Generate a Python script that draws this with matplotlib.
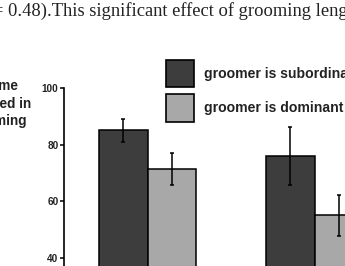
import matplotlib
matplotlib.use("Agg")
import matplotlib.pyplot as plt
from matplotlib.patches import Rectangle
import numpy as np

# Data
groups = [0, 1]
series_names = ["groomer is subordinate", "groomer is dominant"]
subordinate = [85.0, 76.0]
subordinate_err = [4.0, 10.3]
dominant = [71.5, 55.0]
dominant_err = [5.7, 7.2]
yticks = [40, 60, 80, 100]

W, H = 345, 266
fig = plt.figure(figsize=(W / 100, H / 100), dpi=100)

def fx(px):
    return px / W

def fy(py):
    return 1 - py / H

dark = "#3d3d3d"
light = "#a8a8a8"

# axes: left spine at x=64 px, y=100 at 88 px, 167 px per group unit
ax_left, ax_right = 64, 64 + 334
ax_top, ax_bot = 88, 88 + 283
ax = fig.add_axes([fx(ax_left), fy(ax_bot), (ax_right - ax_left) / W, (ax_bot - ax_top) / H])
ax.set_xlim(-0.5, 1.5)
ax.set_ylim(0, 100)

bw = 0.288
x = np.array(groups, dtype=float)
ekw = dict(ecolor="black", elinewidth=1.1, capsize=1.3, capthick=1.1)
ax.bar(x - bw / 2, subordinate, bw, color=dark, edgecolor="black", linewidth=1.1,
       yerr=subordinate_err, error_kw=ekw, zorder=2)
ax.bar(x + bw / 2, dominant, bw, color=light, edgecolor="black", linewidth=1.1,
       yerr=dominant_err, error_kw=ekw, zorder=2)

for s in ["top", "right", "bottom"]:
    ax.spines[s].set_visible(False)
ax.spines["left"].set_linewidth(1.2)
ax.set_xticks([])
ax.set_yticks(yticks)
ax.set_yticklabels([str(t) for t in yticks], fontfamily="Liberation Sans",
                   fontweight="bold", fontsize=7.2, color="#222222")
ax.tick_params(axis="y", direction="out", length=3, width=1.1, pad=1)

# legend (manual)
for i, (name, col) in enumerate(zip(series_names, [dark, light])):
    top = 59.5 + i * 34.5
    fig.add_artist(Rectangle((fx(166), fy(top + 27.5)), 28 / W, 27.5 / H,
                             transform=fig.transFigure, facecolor=col,
                             edgecolor="black", linewidth=1.2))
    fig.text(fx(203.5), fy(top + 14), name, fontfamily="Liberation Sans",
             fontweight="bold", fontsize=10.1, va="center", ha="left", color="#222222")

# y label
fig.text(fx(-4), fy(103.5), "% time\ninvolved in\ngrooming", fontfamily="Liberation Sans",
         fontweight="bold", fontsize=9.85, va="center", ha="center", ma="center",
         linespacing=1.35, color="#222222")

# surrounding document text
fig.text(fx(-6.7), fy(16), "= 0.48).This significant effect of grooming length",
         fontfamily="Liberation Serif", fontsize=13.3, va="baseline", ha="left",
         color="#222222")

fig.savefig("out.png", dpi=100)
